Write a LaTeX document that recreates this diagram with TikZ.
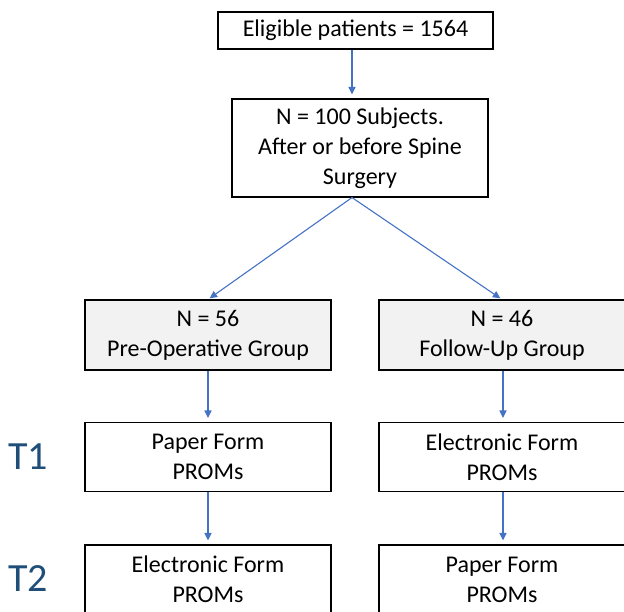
\documentclass[tikz,border=0pt]{standalone}
\usepackage{fontspec}
\setmainfont{Carlito}
\usetikzlibrary{arrows.meta,positioning}
\definecolor{arrowblue}{HTML}{4472C4}
\definecolor{timeblue}{HTML}{1F4E79}
\definecolor{groupgray}{HTML}{F2F2F2}

\begin{document}
\begin{tikzpicture}[x=1pt,y=-1pt,
  box/.style={draw=black,line width=1.1pt,align=center,inner sep=0pt,font=\fontsize{24}{30}\selectfont},
  group/.style={box,fill=groupgray,minimum width=246pt,minimum height=70pt},
  form/.style={box,minimum width=246pt,minimum height=69pt},
  edge/.style={draw=arrowblue,line width=1.1pt,-{Triangle[length=7.5pt,width=7pt]},shorten >=4pt},
  timept/.style={text=timeblue,font=\fontsize{40}{40}\selectfont}]
\useasboundingbox (0,0) rectangle (624,611);
\clip (0,0) rectangle (624,611);

% top of the flow
\node(elig)[box,minimum width=275pt,minimum height=37pt] at (355.5,30.5) {Eligible patients = 1564};
\node(subj)[box,minimum width=256pt,minimum height=98pt] at (360,148) {N = 100 Subjects.\\After or before Spine\\Surgery};

% the two groups
\node(pre)[group] at (208,335) {N = 56\\Pre-Operative Group};
\node(fup)[group] at (502,335) {N = 46\\Follow-Up Group};

% time points
\node(t1l)[form] at (208,457) {Paper Form\\PROMs};
\node(t1r)[form] at (502,457) {Electronic Form\\PROMs};
\node(t2l)[form] at (208,579.5) {Electronic Form\\PROMs};
\node(t2r)[form] at (502,579.5) {Paper Form\\PROMs};

\node(t1)[timept] at (28,457) {T1};
\node(t2)[timept] at (28,579) {T2};

\draw [edge] ([xshift=-3.5pt]elig.south) to ([xshift=-8pt]subj.north);
\draw [edge,shorten >=2pt] ([xshift=-8pt]subj.south) to (pre.north);
\draw [edge,shorten >=2pt] ([xshift=-8pt]subj.south) to (fup.north);
\draw [edge] (pre) to (t1l);
\draw [edge] ([xshift=1pt]fup.south) to ([xshift=1pt]t1r.north);
\draw [edge] (t1l) to (t2l);
\draw [edge] ([xshift=1pt]t1r.south) to ([xshift=1pt]t2r.north);
\end{tikzpicture}
\end{document}
